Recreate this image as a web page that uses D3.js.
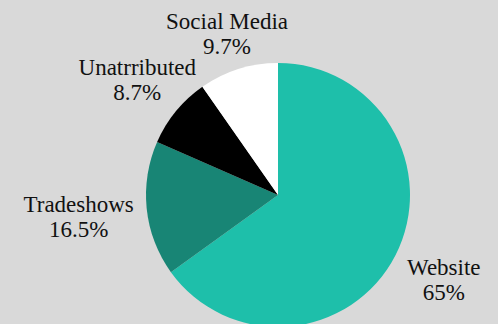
<!DOCTYPE html>
<html>
<head>
<meta charset="utf-8">
<script src="https://cdn.jsdelivr.net/npm/d3@7"></script>
<style>
  html, body { margin: 0; padding: 0; background: #d9d9d9; }
  svg { display: block; }
</style>
</head>
<body>
<div id="chart"></div>
<script>
// Source shares, clockwise from 12 o'clock
const categories = ['Website', 'Tradeshows', 'Unatrributed', 'Social Media'];
const shares = [65, 16.5, 8.7, 9.7];
const sliceColors = ['#1ebfaa', '#188575', '#000000', '#ffffff'];

const width = 498,
      height = 324,
      cx = 278,
      cy = 195,
      radius = 132,
      labelGap = 13,
      lineHeight = 25;

const svg = d3.select('#chart').append('svg')
    .attr('width', width)
    .attr('height', height)
    .attr('viewBox', `0 0 ${width} ${height}`);

svg.append('rect')
   .attr('width', width)
   .attr('height', height)
   .attr('fill', '#d9d9d9');

const data = categories.map((c, i) => ({name: c, value: shares[i], color: sliceColors[i]}));

const pie = d3.pie()
    .sort(null)
    .value(d => d.value);

const arc = d3.arc()
    .innerRadius(0)
    .outerRadius(radius);

const arcs = pie(data);

const g = svg.append('g')
    .attr('transform', `translate(${cx},${cy})`);

g.selectAll('path.slice')
  .data(arcs)
  .join('path')
    .attr('class', 'slice')
    .attr('d', arc)
    .attr('fill', d => d.data.color);

const labels = g.selectAll('text.slice-label')
  .data(arcs)
  .join('text')
    .attr('class', 'slice-label')
    .attr('font-family', 'Liberation Serif')
    .attr('font-size', 23)
    .attr('fill', '#111')
    .attr('text-anchor', 'middle');

labels.append('tspan').attr('class', 'l1').text(d => d.data.name);
labels.append('tspan').attr('class', 'l2').text(d => `${d.data.value}%`);

// Labels: box placed outside so that the ray along the mid angle touches its edge
function placeLabels() {
  labels.each(function(d) {
    const t = d3.select(this);
    const mid = (d.startAngle + d.endAngle) / 2;
    const sx = Math.sin(mid), sy = -Math.cos(mid);
    const px = sx * (radius + labelGap), py = sy * (radius + labelGap);
    const w = d3.max(t.selectAll('tspan').nodes(), n => n.getComputedTextLength());
    const hw = w / 2, hh = 23.5;
    const k = Math.min(Math.abs(sx) > 1e-6 ? hw / Math.abs(sx) : Infinity,
                       Math.abs(sy) > 1e-6 ? hh / Math.abs(sy) : Infinity);
    const bx = px + sx * k, by = py + sy * k;
    t.select('.l1').attr('x', bx).attr('y', by - 4.5);
    t.select('.l2').attr('x', bx).attr('y', by - 4.5 + lineHeight);
  });
}

placeLabels();
if (document.fonts) document.fonts.ready.then(placeLabels);
</script>
</body>
</html>
